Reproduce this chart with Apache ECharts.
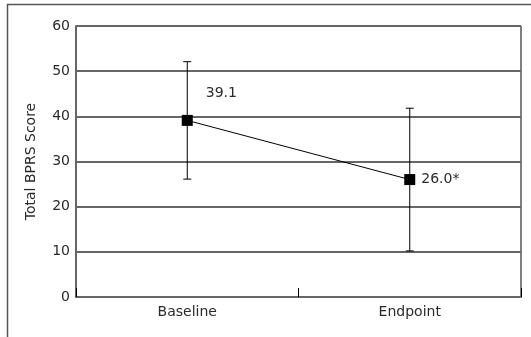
<!DOCTYPE html>
<html><head><meta charset="utf-8">
<script src="https://cdn.jsdelivr.net/npm/echarts@6/dist/echarts.min.js"></script>
<style>html,body{margin:0;padding:0;background:#fff}#c{width:531px;height:337px}</style>
</head><body><div id="c"></div>
<script>
const categories = ['Baseline', 'Endpoint'];
const means = [39.1, 26.0];
const errLow = [26.1, 10.2];
const errHigh = [52.1, 41.8];
const pointLabels = ['39.1', '26.0*'];
const yTicks = [0, 10, 20, 30, 40, 50, 60];

const FONT = 'DejaVu Sans';
const TXT = '#2a2a2a';
const chart = echarts.init(document.getElementById('c'));
chart.setOption({
  animation: false,
  graphic: [
    {type: 'line', shape: {x1: 7.5, y1: 4, x2: 7.5, y2: 337}, style: {stroke: '#555', lineWidth: 1.5}},
    {type: 'line', shape: {x1: 7, y1: 4.5, x2: 531, y2: 4.5}, style: {stroke: '#555', lineWidth: 1.5}}
  ],
  grid: {left: 76, top: 26, right: 10, bottom: 40, show: true, borderColor: '#000', borderWidth: 1},
  xAxis: {
    type: 'category', data: categories,
    axisLine: {lineStyle: {color: '#666', width: 2}},
    axisTick: {show: true, inside: true, length: 9, lineStyle: {color: '#000'}},
    axisLabel: {color: TXT, fontFamily: FONT, fontSize: 14, margin: 8}
  },
  yAxis: {
    type: 'value', min: yTicks[0], max: yTicks[yTicks.length - 1], interval: 10,
    name: 'Total BPRS Score', nameLocation: 'middle', nameGap: 38,
    nameTextStyle: {color: TXT, fontFamily: FONT, fontSize: 14},
    axisLine: {show: true, lineStyle: {color: '#666', width: 2}},
    axisTick: {show: false},
    axisLabel: {color: TXT, fontFamily: FONT, fontSize: 14, margin: 6},
    splitLine: {lineStyle: {color: '#666', width: 2}}
  },
  series: [
    {
      type: 'custom',
      data: categories.map((c, i) => [i, errLow[i], errHigh[i]]),
      renderItem: function (params, api) {
        const lo = api.coord([api.value(0), api.value(1)]);
        const hi = api.coord([api.value(0), api.value(2)]);
        const w = 4;
        const st = {stroke: '#000', lineWidth: 1};
        return {type: 'group', children: [
          {type: 'line', shape: {x1: hi[0], y1: hi[1], x2: lo[0], y2: lo[1]}, style: st},
          {type: 'line', shape: {x1: hi[0] - w, y1: hi[1], x2: hi[0] + w, y2: hi[1]}, style: st},
          {type: 'line', shape: {x1: lo[0] - w, y1: lo[1], x2: lo[0] + w, y2: lo[1]}, style: st}
        ]};
      },
      z: 3
    },
    {
      type: 'line',
      data: means.map((v, i) => ({
        value: v,
        label: i === 0
          ? {show: true, position: 'right', offset: [8, -27], formatter: pointLabels[i]}
          : {show: true, position: 'right', offset: [1, 0], formatter: pointLabels[i]}
      })),
      symbol: 'rect', symbolSize: 11,
      itemStyle: {color: '#000'},
      lineStyle: {color: '#000', width: 1},
      label: {color: TXT, fontFamily: FONT, fontSize: 14},
      z: 4
    }
  ]
});
</script></body></html>
